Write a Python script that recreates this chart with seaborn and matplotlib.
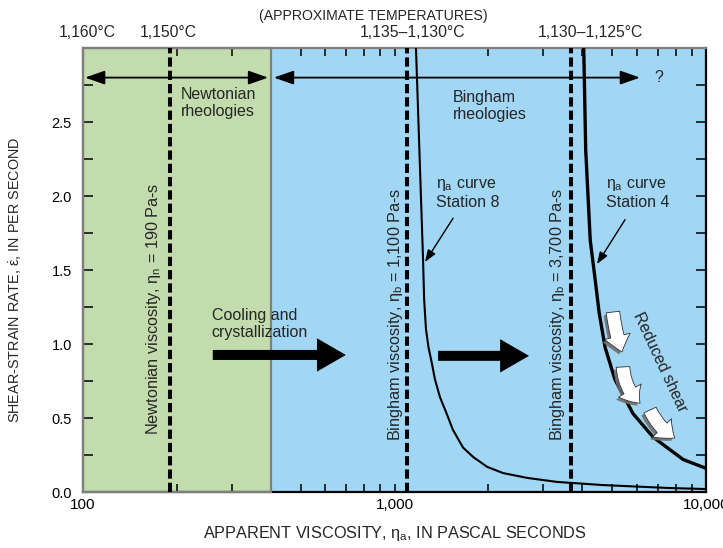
import matplotlib
matplotlib.use("Agg")
import matplotlib.pyplot as plt
import seaborn as sns
import pandas as pd
from matplotlib.patches import Rectangle, FancyArrowPatch
from matplotlib import patheffects as pe
from matplotlib.ticker import FixedLocator, FixedFormatter, NullFormatter
from matplotlib import font_manager
import matplotlib.transforms as mtransforms

# Apparent-viscosity curves: viscosity (Pa-s) vs shear-strain rate (1/s)
station8_visc = [1172, 1202, 1235, 1245, 1262, 1285, 1318, 1349, 1400, 1470,
                 1540, 1660, 1790, 1983, 2230, 2670, 3330, 4660, 7600, 10000]
station8_rate = [3.0, 2.31, 1.57, 1.3, 1.1, 0.98, 0.87, 0.76, 0.64, 0.53,
                 0.42, 0.30, 0.236, 0.17, 0.128, 0.095, 0.068, 0.047, 0.027, 0.02]
station4_visc = [4050, 4110, 4250, 4410, 4540, 4740, 5100, 5830, 6770, 8440, 10000]
station4_rate = [3.0, 2.31, 1.70, 1.43, 1.21, 0.98, 0.76, 0.53, 0.37, 0.22, 0.16]

# Reference viscosities and regime boundary
newtonian_visc = 190
bingham_visc = [1100, 3700]
regime_boundary = 400

# Approximate temperatures along the top
temp_labels = ["1,160°C", "1,150°C", "1,135–1,130°C", "1,130–1,125°C"]
temp_positions = [103, 188, 1140, 4250]

y_ticks = [0.0, 0.5, 1.0, 1.5, 2.0, 2.5]
y_minor = [0.25, 0.75, 1.25, 1.75, 2.25, 2.75]
x_ticks = [100, 1000, 10000]
x_tick_labels = ["100", "1,000", "10,000"]
x_minor = [200, 300, 400, 500, 600, 700, 800, 900,
           2000, 3000, 4000, 5000, 6000, 7000, 8000, 9000]

GREEN = "#c3dcad"
BLUE = "#a1d6f4"
GRAY = "#7f7f7f"
FS = 11.5

sns.set_theme(style="ticks")
plt.rcParams["font.family"] = ["Liberation Sans", "DejaVu Sans"]
plt.rcParams["mathtext.fontset"] = "custom"
plt.rcParams["mathtext.rm"] = "Liberation Sans"
plt.rcParams["mathtext.it"] = "Liberation Sans"
plt.rcParams["mathtext.bf"] = "Liberation Sans:bold"

installed = {f.name for f in font_manager.fontManager.ttflist}
NARROW = "Liberation Sans Narrow" if "Liberation Sans Narrow" in installed else None

fig = plt.figure(figsize=(7.23, 5.48), dpi=100)
ax = fig.add_axes([83 / 723, 56 / 548, 623 / 723, 444 / 548])
ax.set_xscale("log")
ax.set_xlim(100, 10000)
ax.set_ylim(0, 3.0)

# Rheology regimes
ax.axvspan(100, regime_boundary, color=GREEN, lw=0, zorder=0)
ax.axvspan(regime_boundary, 10000, color=BLUE, lw=0, zorder=0)
ax.add_patch(Rectangle((100, 0), regime_boundary - 100, 3.0, fill=False,
                       ec=GRAY, lw=1.6, zorder=3, clip_on=False))

# Spines
for side in ["left", "top"]:
    ax.spines[side].set_color(GRAY)
for side in ["right", "bottom"]:
    ax.spines[side].set_color("black")
for s in ax.spines.values():
    s.set_linewidth(1.6)

# Viscosity curves
curves = pd.DataFrame({
    "visc": station8_visc + station4_visc,
    "rate": station8_rate + station4_rate,
    "station": ["8"] * len(station8_visc) + ["4"] * len(station4_visc),
})
sns.lineplot(data=curves[curves.station == "8"], x="visc", y="rate", sort=False,
             estimator=None, color="black", lw=1.5, ax=ax, zorder=4)
sns.lineplot(data=curves[curves.station == "4"], x="visc", y="rate", sort=False,
             estimator=None, color="black", lw=2.4, ax=ax, zorder=4)

# Dashed reference viscosities
dash = (0, (2.3, 1.0))
for v in [newtonian_visc] + bingham_visc:
    ax.axvline(v, color="black", lw=2.9, linestyle=dash, zorder=5)

# Ticks
ax.xaxis.set_major_locator(FixedLocator(x_ticks))
ax.xaxis.set_major_formatter(FixedFormatter(x_tick_labels))
ax.xaxis.set_minor_locator(FixedLocator(x_minor))
ax.xaxis.set_minor_formatter(NullFormatter())
ax.yaxis.set_major_locator(FixedLocator(y_ticks))
ax.yaxis.set_minor_locator(FixedLocator(y_minor))
ax.set_yticklabels([f"{t:.1f}" for t in y_ticks])
ax.tick_params(axis="both", which="both", direction="in", top=True, right=True,
               colors="black", width=1.1)
ax.tick_params(axis="x", which="both", length=6, pad=4, labelsize=11)
ax.tick_params(axis="y", which="both", length=7.5, pad=8, labelsize=10.5)
ax.set_xlabel(r"APPARENT VISCOSITY, $\eta_\mathrm{a}$, IN PASCAL SECONDS",
              fontsize=11.7, labelpad=9)
if NARROW:
    ax.set_ylabel(r"SHEAR-STRAIN RATE, $\dot{\varepsilon}$, IN PER SECOND",
                  fontsize=11.8, family=[NARROW, "Liberation Sans"])
else:
    ax.set_ylabel(r"SHEAR-STRAIN RATE, $\dot{\varepsilon}$, IN PER SECOND",
                  fontsize=10.4)
ax.yaxis.set_label_coords(-0.095, 0.478)

# Temperatures above the plot
top = mtransforms.blended_transform_factory(ax.transData, ax.transAxes)
for lab, xp in zip(temp_labels, temp_positions):
    ax.text(xp, 1.034, lab, transform=top, ha="center", va="center", fontsize=11.3)
fig.text(373 / 723, 1 - 16 / 548, "(APPROXIMATE TEMPERATURES)", ha="center",
         va="center", fontsize=10.2)

# Regime arrows
arrow_kw = dict(arrowstyle="<|-|>,head_length=1.0,head_width=0.35",
                color="black", lw=1.3, shrinkA=0, shrinkB=0)
ax.annotate("", xy=(393, 2.8), xytext=(101.5, 2.8), arrowprops=arrow_kw, zorder=6)
ax.annotate("", xy=(6140, 2.8), xytext=(410, 2.8), arrowprops=arrow_kw, zorder=6)
ax.text(6850, 2.8, "?", fontsize=FS, ha="left", va="center")

ax.text(206, 2.63, "Newtonian\nrheologies", fontsize=FS, ha="left", va="center",
        linespacing=1.2, zorder=6)
ax.text(1542, 2.61, "Bingham\nrheologies", fontsize=FS, ha="left", va="center",
        linespacing=1.2, zorder=6)

# Labels along dashed lines
ax.text(169, 1.236, r"Newtonian viscosity, $\eta_\mathrm{n}$ = 190 Pa-s",
        rotation=90, fontsize=11.7, ha="center", va="center", zorder=6)
ax.text(1004, 1.2, r"Bingham viscosity, $\eta_\mathrm{b}$ = 1,100 Pa-s",
        rotation=90, fontsize=11.7, ha="center", va="center", zorder=6)
ax.text(3327, 1.2, r"Bingham viscosity, $\eta_\mathrm{b}$ = 3,700 Pa-s",
        rotation=90, fontsize=11.7, ha="center", va="center", zorder=6)

# Curve labels with pointers
ax.text(1358, 2.02, "$\\eta_\\mathrm{a}$ curve\nStation 8", fontsize=FS,
        ha="left", va="center", linespacing=1.2, zorder=6)
ax.text(4775, 2.02, "$\\eta_\\mathrm{a}$ curve\nStation 4", fontsize=FS,
        ha="left", va="center", linespacing=1.2, zorder=6)
ptr = dict(arrowstyle="-|>,head_length=0.6,head_width=0.22", color="black",
           lw=1.0, shrinkA=0, shrinkB=0)
ax.annotate("", xy=(1253, 1.554), xytext=(1542, 1.85), arrowprops=ptr, zorder=6)
ax.annotate("", xy=(4467, 1.54), xytext=(5497, 1.84), arrowprops=ptr, zorder=6)

# Cooling and crystallization
ax.text(259, 1.135, "Cooling and\ncrystallization", fontsize=FS, ha="left",
        va="center", linespacing=1.2, zorder=6)
big = dict(arrowstyle="simple,head_length=1.3,head_width=1.5,tail_width=0.45",
           mutation_scale=16, fc="black", ec="black", lw=0, shrinkA=0, shrinkB=0)
ax.annotate("", xy=(698, 0.926), xytext=(261, 0.926), arrowprops=big, zorder=6)
ax.annotate("", xy=(2703, 0.92), xytext=(1380, 0.92), arrowprops=big, zorder=6)

# Reduced shear
ax.text(7110, 0.878, "Reduced shear", rotation=-65, fontsize=FS, ha="center",
        va="center", zorder=6)
shadow = [pe.SimplePatchShadow(offset=(-1.8, -1.8), shadow_rgbFace="#6f6f6f", alpha=0.9),
          pe.Normal()]
for (x0, y0), (x1, y1), rad in [((5025, 1.216), (5370, 0.946), 0.05),
                                ((5415, 0.845), (6140, 0.60), 0.2),
                                ((6610, 0.554), (7940, 0.365), 0.15)]:
    a = FancyArrowPatch((x0, y0), (x1, y1),
                        arrowstyle="simple,head_length=0.9,head_width=1.45,tail_width=0.75",
                        mutation_scale=13, connectionstyle=f"arc3,rad={rad}",
                        fc="white", ec="#333333", lw=0.6, zorder=6,
                        shrinkA=0, shrinkB=0, path_effects=shadow)
    ax.add_patch(a)

fig.savefig("out.png", dpi=100)
